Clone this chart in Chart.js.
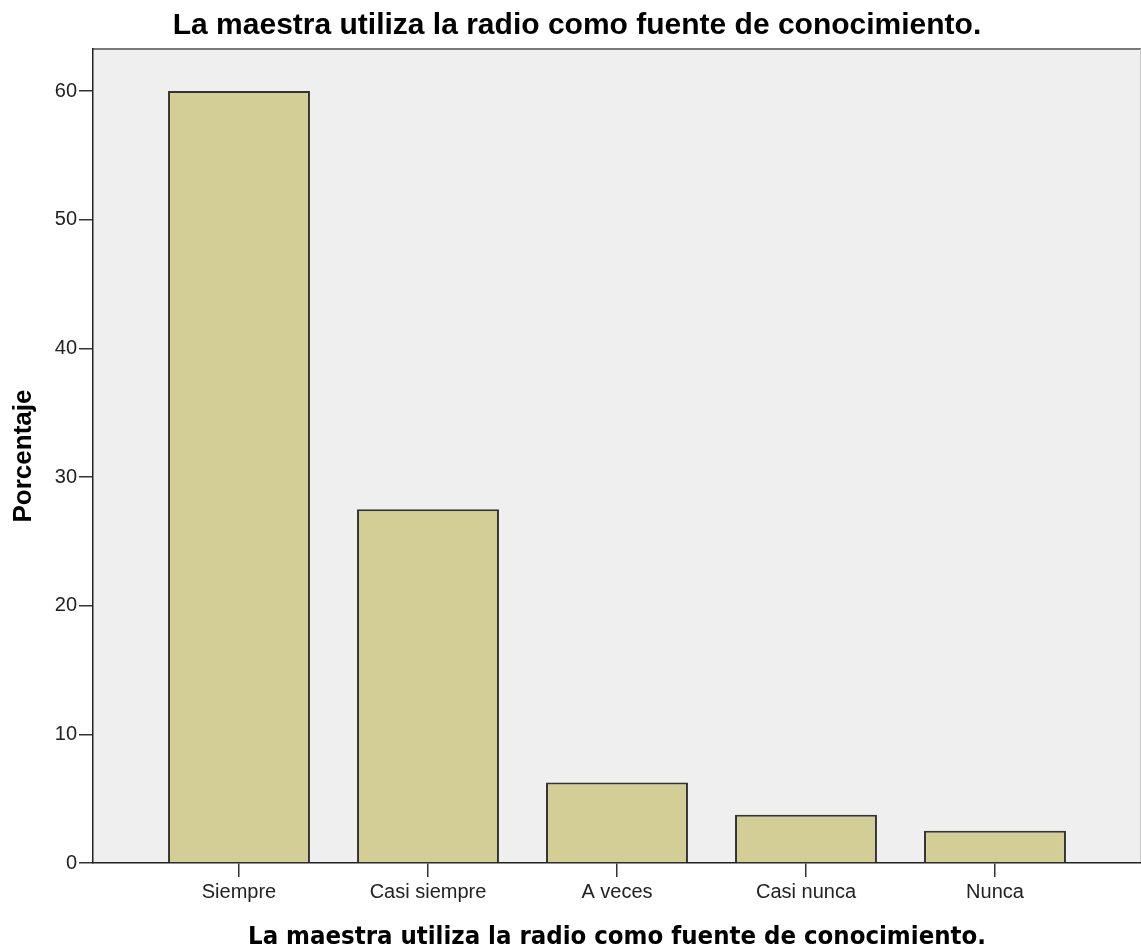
<!DOCTYPE html>
<html>
<head>
<meta charset="utf-8">
<script src="https://cdn.jsdelivr.net/npm/chart.js@4.4.1/dist/chart.umd.min.js"></script>
<style>
  html, body { margin: 0; padding: 0; background: #fff; }
  #wrap { width: 1141px; height: 951px; }
</style>
</head>
<body>
<div id="wrap"><canvas id="chart" width="1141" height="951"></canvas></div>
<script>
// categorias y porcentajes
const categorias = ['Siempre', 'Casi siempre', 'A veces', 'Casi nunca', 'Nunca'];
const porcentajes = [60, 27.5, 6.25, 3.75, 2.5];
const ticksY = [0, 10, 20, 30, 40, 50, 60];

const titulo = 'La maestra utiliza la radio como fuente de conocimiento.';

// fondo gris del area de trazado + bordes arriba y derecha
const fondoPlot = {
  id: 'fondoPlot',
  beforeDraw(chart) {
    const { ctx, chartArea: a } = chart;
    ctx.save();
    ctx.fillStyle = '#efefef';
    ctx.fillRect(a.left, a.top, a.right - a.left, a.bottom - a.top);
    ctx.strokeStyle = '#7a7a7a';
    ctx.lineWidth = 2;
    ctx.beginPath();
    ctx.moveTo(a.left, a.top);
    ctx.lineTo(a.right, a.top);
    ctx.stroke();
    ctx.strokeStyle = '#c8c8c8';
    ctx.lineWidth = 1;
    ctx.beginPath();
    ctx.moveTo(a.right - 0.5, a.top);
    ctx.lineTo(a.right - 0.5, a.bottom);
    ctx.stroke();
    ctx.restore();
  }
};

const datos = {
  datasets: [{
    label: 'Porcentaje',
    data: categorias.map((c, i) => ({ x: i, y: porcentajes[i] })),
    backgroundColor: '#d2ce96',
    borderColor: '#333333',
    borderWidth: 2,
    categoryPercentage: 1,
    barPercentage: 0.751
  }]
};

const config = {
  type: 'bar',
  data: datos,
  plugins: [fondoPlot],
  options: {
    responsive: false,
    animation: false,
    layout: { padding: { left: 13, right: 0, top: 0, bottom: 0 } },
    plugins: {
      legend: { display: false },
      tooltip: { enabled: false },
      title: {
        display: true,
        text: titulo,
        color: '#000',
        font: { family: '"Liberation Sans", Arial, sans-serif', size: 30, weight: 'bold', lineHeight: 1.2 },
        padding: { top: 8, bottom: 5 }
      }
    },
    scales: {
      x: {
        type: 'linear',
        offset: false,
        min: -0.7725,
        max: 4.7725,
        afterBuildTicks: s => { s.ticks = categorias.map((c, i) => ({ value: i })); },
        afterFit: s => { s.height = 88; },
        ticks: {
          callback: v => categorias[v] ?? '',
          color: '#222',
          padding: 3,
          maxRotation: 0,
          font: { family: '"Liberation Sans", Arial, sans-serif', size: 20 }
        },
        grid: { offset: false, drawOnChartArea: false, drawTicks: true, tickLength: 14, color: '#333', lineWidth: 1.5 },
        border: { display: true, color: '#222', width: 1.5 },
        title: {
          display: true,
          text: titulo,
          color: '#000',
          font: { family: '"DejaVu Sans Condensed", "DejaVu Sans", sans-serif', size: 25.5, weight: 'bold', lineHeight: 1.2 },
          padding: { top: 0, bottom: -2 }
        }
      },
      y: {
        min: 0,
        max: 63.27,
        afterBuildTicks: s => { s.ticks = ticksY.map(v => ({ value: v })); },
        afterFit: s => { s.width = 80; },
        ticks: {
          color: '#222',
          padding: 2,
          font: { family: '"Liberation Sans", Arial, sans-serif', size: 20 }
        },
        grid: { drawOnChartArea: false, drawTicks: true, tickLength: 14, color: '#333', lineWidth: 1.5 },
        border: { display: true, color: '#222', width: 1.5 },
        title: {
          display: true,
          text: 'Porcentaje',
          color: '#000',
          font: { family: '"Liberation Sans", Arial, sans-serif', size: 26, weight: 'bold', lineHeight: 1 },
          padding: { top: -2, bottom: 0 }
        }
      }
    }
  }
};

const grafico = new Chart(document.getElementById('chart'), config);
</script>
</body>
</html>
